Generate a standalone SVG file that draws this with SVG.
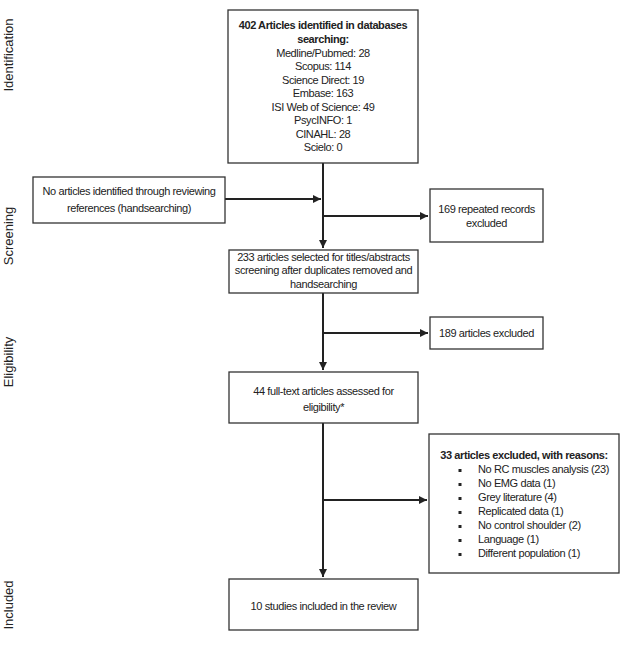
<svg xmlns="http://www.w3.org/2000/svg" width="627" height="662" viewBox="0 0 627 662">
<style>
.box{fill:#fff;stroke:#333;stroke-width:1.3}
.t{font-family:"Liberation Sans",Arial,sans-serif;font-size:11px;letter-spacing:-0.4px;fill:#222;text-anchor:middle}
.b{font-weight:bold}
.l{text-anchor:start}
.side{font-family:"Liberation Sans",Arial,sans-serif;font-size:13px;fill:#222;text-anchor:middle}
.c{fill:none;stroke:#222;stroke-width:2}
</style>
<defs>
<marker id="ah" viewBox="0 0 8 8" refX="8" refY="4" markerWidth="4" markerHeight="4" markerUnits="strokeWidth" orient="auto">
<path d="M0,0 L8,4 L0,8 z" fill="#222"/>
</marker>
</defs>
<g id="labels">
<text class="side" transform="translate(13,55) rotate(-90)">Identification</text>
<text class="side" transform="translate(13,236) rotate(-90)">Screening</text>
<text class="side" transform="translate(13,362) rotate(-90)">Eligibility</text>
<text class="side" transform="translate(13,605) rotate(-90)">Included</text>
</g>
<g id="connectors">
<path class="c" d="M323,163 V248" marker-end="url(#ah)"/>
<path class="c" d="M225,199 H321" marker-end="url(#ah)"/>
<path class="c" d="M323,216 H428" marker-end="url(#ah)"/>
<path class="c" d="M323,293 V370" marker-end="url(#ah)"/>
<path class="c" d="M323,333 H428" marker-end="url(#ah)"/>
<path class="c" d="M323,423 V577" marker-end="url(#ah)"/>
<path class="c" d="M323,500 H427" marker-end="url(#ah)"/>
</g>
<g id="n-identified">
<rect class="box" x="228" y="10" width="190" height="153"/>
<text class="t b" x="323" y="29">402 Articles identified in databases</text>
<text class="t b" x="323" y="43">searching:</text>
<text class="t" x="323" y="57">Medline/Pubmed: 28</text>
<text class="t" x="323" y="70">Scopus: 114</text>
<text class="t" x="323" y="84">Science Direct: 19</text>
<text class="t" x="323" y="97">Embase: 163</text>
<text class="t" x="323" y="111">ISI Web of Science: 49</text>
<text class="t" x="323" y="124">PsycINFO: 1</text>
<text class="t" x="323" y="138">CINAHL: 28</text>
<text class="t" x="323" y="151">Scielo: 0</text>
</g>
<g id="n-hand">
<rect class="box" x="33" y="177" width="192" height="46"/>
<text class="t" x="129" y="195">No articles identified through reviewing</text>
<text class="t" x="129" y="212">references (handsearching)</text>
</g>
<g id="n-repeated">
<rect class="box" x="430" y="189" width="113" height="53"/>
<text class="t" x="486.5" y="213">169 repeated records</text>
<text class="t" x="486.5" y="227">excluded</text>
</g>
<g id="n-selected">
<rect class="box" x="229" y="250" width="189" height="43"/>
<text class="t" x="323.5" y="261">233 articles selected for titles/abstracts</text>
<text class="t" x="323.5" y="274">screening after duplicates removed and</text>
<text class="t" x="323.5" y="288">handsearching</text>
</g>
<g id="n-excluded189">
<rect class="box" x="430" y="317" width="113" height="32"/>
<text class="t" x="486.5" y="337">189 articles excluded</text>
</g>
<g id="n-fulltext">
<rect class="box" x="229" y="372" width="189" height="51"/>
<text class="t" x="323.5" y="395">44 full-text articles assessed for</text>
<text class="t" x="323.5" y="411">eligibility*</text>
</g>
<g id="n-excluded33">
<rect class="box" x="429" y="434" width="190" height="139"/>
<text class="t b" x="524" y="459">33 articles excluded, with reasons:</text>
<g fill="#222">
<rect x="458.5" y="469" width="3" height="3"/><rect x="458.5" y="483" width="3" height="3"/><rect x="458.5" y="497" width="3" height="3"/><rect x="458.5" y="511" width="3" height="3"/><rect x="458.5" y="525" width="3" height="3"/><rect x="458.5" y="539" width="3" height="3"/><rect x="458.5" y="553" width="3" height="3"/>
</g>
<text class="t l" x="478" y="473">No RC muscles analysis (23)</text>
<text class="t l" x="478" y="487">No EMG data (1)</text>
<text class="t l" x="478" y="501">Grey literature (4)</text>
<text class="t l" x="478" y="515">Replicated data (1)</text>
<text class="t l" x="478" y="529">No control shoulder (2)</text>
<text class="t l" x="478" y="543">Language (1)</text>
<text class="t l" x="478" y="557">Different population (1)</text>
</g>
<g id="n-included">
<rect class="box" x="229" y="579" width="189" height="51"/>
<text class="t" x="323.5" y="610">10 studies included in the review</text>
</g>
</svg>
